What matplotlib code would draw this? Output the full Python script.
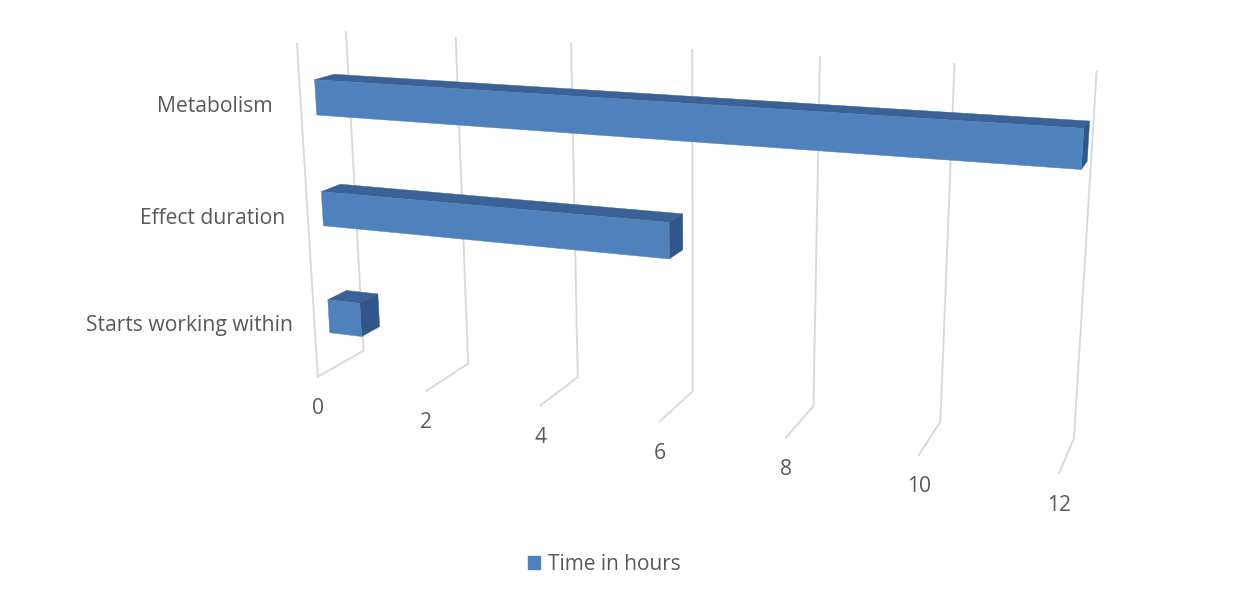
import numpy as np
import matplotlib
matplotlib.use("Agg")
import matplotlib.pyplot as plt
from matplotlib.patches import Patch

categories = ["Starts working within", "Effect duration", "Metabolism"]
hours = [0.6, 6, 12]
ticks = [0, 2, 4, 6, 8, 10, 12]
series_name = "Time in hours"

# where the box corners sit on the canvas, used to work out the 3d view
floor_front = [(318, 377), (426, 391), (541, 405), (660, 422), (786, 438), (918, 455), (1059, 473)]
floor_back = [(363, 350), (468, 363), (578, 377), (693, 392), (813, 407), (941, 422), (1074, 437)]
wall_top = [(346, 33), (456, 38), (571, 44), (692, 50), (820, 57), (954, 64), (1097, 71)]
side_top = (297, 43)

FRONT = "#4f81bd"
TOP = "#3a6296"
SIDE = "#31568a"
GRID = "#d9d9d9"
TEXT = "#595959"
FONT = "Open Sans"
SIZE = 15.2


def fit_camera():
    world = []
    canvas = []
    for i, t in enumerate(ticks):
        world += [(t, 0, 0), (t, 0, 1), (t, 1, 1)]
        canvas += [floor_front[i], floor_back[i], wall_top[i]]
    world.append((0, 1, 0))
    canvas.append(side_top)
    rows = []
    rhs = []
    for (v, h, d), (px, py) in zip(world, canvas):
        rows.append([v, h, d, 1, 0, 0, 0, 0, -px * v, -px * h, -px * d])
        rows.append([0, 0, 0, 0, v, h, d, 1, -py * v, -py * h, -py * d])
        rhs += [px, py]
    sol = np.linalg.lstsq(np.array(rows, float), np.array(rhs, float), rcond=None)[0]
    return np.append(sol, 1).reshape(3, 4)


camera = fit_camera()


def project(v, h, d):
    x, y, w = camera @ np.array([v, h, d, 1.0])
    return x / w, y / w


def draw_bar(ax, value, center):
    h0, h1 = center - 0.052, center + 0.052
    d0, d1 = 0.3, 0.7
    top = [project(0, h1, d0), project(value, h1, d0), project(value, h1, d1), project(0, h1, d1)]
    side = [project(value, h0, d0), project(value, h1, d0), project(value, h1, d1), project(value, h0, d1)]
    front = [project(0, h0, d0), project(value, h0, d0), project(value, h1, d0), project(0, h1, d0)]
    ax.fill(*zip(*top), color=TOP, lw=0.3, zorder=3)
    ax.fill(*zip(*side), color=SIDE, lw=0.3, zorder=3)
    ax.fill(*zip(*front), color=FRONT, lw=0.3, zorder=4)


def main():
    fig = plt.figure(figsize=(12.39, 5.97), dpi=100)
    ax = fig.add_axes([0, 0, 1, 1])
    ax.set_xlim(0, 1239)
    ax.set_ylim(597, 0)
    ax.axis("off")

    for t in ticks:
        pts = [project(t, 0, 0), project(t, 0, 1), project(t, 1, 1)]
        ax.plot(*zip(*pts), color=GRID, lw=1.4, zorder=1, solid_joinstyle="miter")
        x, y = project(t, 0, 0)
        ax.text(x, y + 32, str(t), ha="center", va="center", color=TEXT, fontsize=SIZE, family=FONT)
    ax.plot(*zip(project(0, 0, 0), project(0, 1, 0)), color=GRID, lw=1.4, zorder=1)

    pads = [21, 22, 28]
    shifts = [2, 4, 5]
    for i, name in enumerate(categories):
        center = (i + 0.5) / len(categories)
        draw_bar(ax, hours[i], center)
        x, y = project(0, center, 0)
        ax.text(x - pads[i], y + shifts[i], name, ha="right", va="center", color=TEXT,
                fontsize=SIZE, family=FONT)

    ax.legend(handles=[Patch(color=FRONT, label=series_name)], loc="center",
              bbox_to_anchor=(604, 564), bbox_transform=ax.transData, frameon=False,
              handlelength=0.6, handleheight=0.6, handletextpad=0.35, labelcolor=TEXT,
              prop={"family": FONT, "size": 15})

    fig.savefig("out.png", dpi=100)


if __name__ == "__main__":
    main()
